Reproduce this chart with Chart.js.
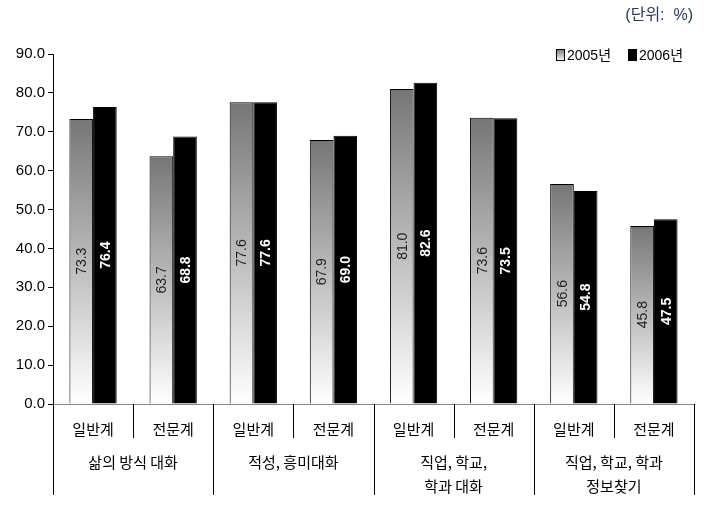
<!DOCTYPE html>
<html>
<head>
<meta charset="utf-8">
<script src="https://cdn.jsdelivr.net/npm/chart.js@4/dist/chart.umd.min.js"></script>
<style>
  html, body { margin: 0; padding: 0; background: #fff; }
  #wrap { width: 721px; height: 518px; position: relative; }
</style>
</head>
<body>
<div id="wrap"><canvas id="chart"></canvas></div>
<script>
const categories = ['일반계', '전문계', '일반계', '전문계', '일반계', '전문계', '일반계', '전문계']
const groups = [['삶의 방식 대화'], ['적성, 흥미대화'], ['직업, 학교,', '학과 대화'], ['직업, 학교, 학과', '정보찾기']]
const values2005 = [73.3, 63.7, 77.6, 67.9, 81.0, 73.6, 56.6, 45.8]
const values2006 = [76.4, 68.8, 77.6, 69.0, 82.6, 73.5, 54.8, 47.5]
const seriesNames = ['2005년', '2006년']
const unitLabel = '(단위:  %)'

const FONT = "'Liberation Sans', Arial, 'Noto Sans CJK KR', sans-serif"

const grayGradient = (ctx, top, bottom) => {
    const g = ctx.createLinearGradient(0, top, 0, bottom)
    g.addColorStop(0, '#767676')
    g.addColorStop(1, '#ffffff')
    return g
}

const barGradient = c => {
    const chart = c.chart
    const y = chart.scales.y
    if (!y || c.raw == null) return '#999'
    const top = y.getPixelForValue(c.raw)
    const bottom = y.getPixelForValue(0)
    if (!isFinite(top) || !isFinite(bottom) || top === bottom) return '#999'
    return grayGradient(chart.ctx, top, bottom)
}

// numbers written vertically inside each bar
const valueLabels = {
    id: 'valueLabels',
    afterDatasetsDraw(chart) {
        const ctx = chart.ctx
        chart.data.datasets.forEach((ds, di) => {
            chart.getDatasetMeta(di).data.forEach((bar, i) => {
                ctx.save()
                ctx.translate(bar.x, (bar.y + bar.base) / 2)
                ctx.rotate(-Math.PI / 2)
                ctx.textAlign = 'center'
                ctx.textBaseline = 'middle'
                ctx.font = (di === 1 ? 'bold ' : '') + '14px ' + FONT
                ctx.fillStyle = di === 1 ? '#fff' : '#222'
                ctx.fillText(ds.data[i].toFixed(1), 0, 1)
                ctx.restore()
            })
        })
    }
}

// dividers, group names, legend and unit text
const decorations = {
    id: 'decorations',
    afterDraw(chart) {
        const ctx = chart.ctx
        const x = chart.scales.x
        const area = chart.chartArea
        ctx.save()
        ctx.strokeStyle = '#000'
        ctx.lineWidth = 1
        for (let i = 0; i <= categories.length; i++) {
            const px = Math.round(x.getPixelForValue(i - 0.5)) + 0.5
            const long = i % 2 === 0
            ctx.beginPath()
            ctx.moveTo(px, area.bottom)
            ctx.lineTo(px, area.bottom + (long ? 91 : 34))
            ctx.stroke()
        }

        ctx.fillStyle = '#000'
        ctx.font = "15px 'Noto Sans CJK KR', sans-serif"
        ctx.textAlign = 'center'
        ctx.textBaseline = 'middle'
        groups.forEach((lines, g) => {
            const cx = x.getPixelForValue(g * 2 + 0.5)
            lines.forEach((line, k) => ctx.fillText(line, cx, area.bottom + 58 + k * 24))
        })

        // legend
        ctx.font = '14px ' + FONT
        ctx.textAlign = 'left'
        const lx = [556, 628]
        seriesNames.forEach((name, i) => {
            ctx.fillStyle = i === 0 ? grayGradient(ctx, 49, 61) : '#000'
            ctx.fillRect(lx[i], 49, 9, 12)
            if (i === 0) {
                ctx.strokeStyle = '#000'
                ctx.strokeRect(lx[i] + 0.5, 49.5, 8, 11)
            }
            ctx.fillStyle = '#000'
            ctx.fillText(name, lx[i] + 11, 56)
        })

        ctx.font = '16px ' + FONT
        ctx.textAlign = 'right'
        ctx.fillStyle = '#2b3a55'
        ctx.fillText(unitLabel, 693, 16)
        ctx.restore()
    }
}

const data = {
    labels: categories,
    datasets: [{
        label: seriesNames[0],
        data: values2005,
        backgroundColor: barGradient,
        borderColor: '#000',
        borderWidth: 1
    }, {
        label: seriesNames[1],
        data: values2006,
        backgroundColor: '#000',
        borderColor: '#000',
        borderWidth: 1
    }]
}

const options = {
    responsive: true,
    maintainAspectRatio: false,
    animation: false,
    layout: { padding: { top: 54, right: 27, bottom: 0, left: 0 } },
    datasets: { bar: { categoryPercentage: 0.59, barPercentage: 1 } },
    plugins: {
        legend: { display: false },
        tooltip: { enabled: false }
    },
    scales: {
        x: {
            grid: { display: false, drawTicks: false },
            border: { color: '#888', width: 1 },
            ticks: {
                color: '#000',
                padding: 16,
                maxRotation: 0,
                font: { family: "'Noto Sans CJK KR', sans-serif", size: 15 }
            },
            afterFit: s => { s.height = 114 }
        },
        y: {
            min: 0,
            max: 90,
            grid: { drawOnChartArea: false, drawTicks: true, tickLength: 5, color: '#000' },
            border: { color: '#000', width: 1 },
            ticks: {
                stepSize: 10,
                padding: 3,
                color: '#000',
                font: { family: FONT, size: 15 },
                callback: v => v.toFixed(1)
            },
            afterFit: s => { s.width = 53 }
        }
    }
}

new Chart('chart', { type: 'bar', data, options, plugins: [valueLabels, decorations] })
</script>
</body>
</html>
